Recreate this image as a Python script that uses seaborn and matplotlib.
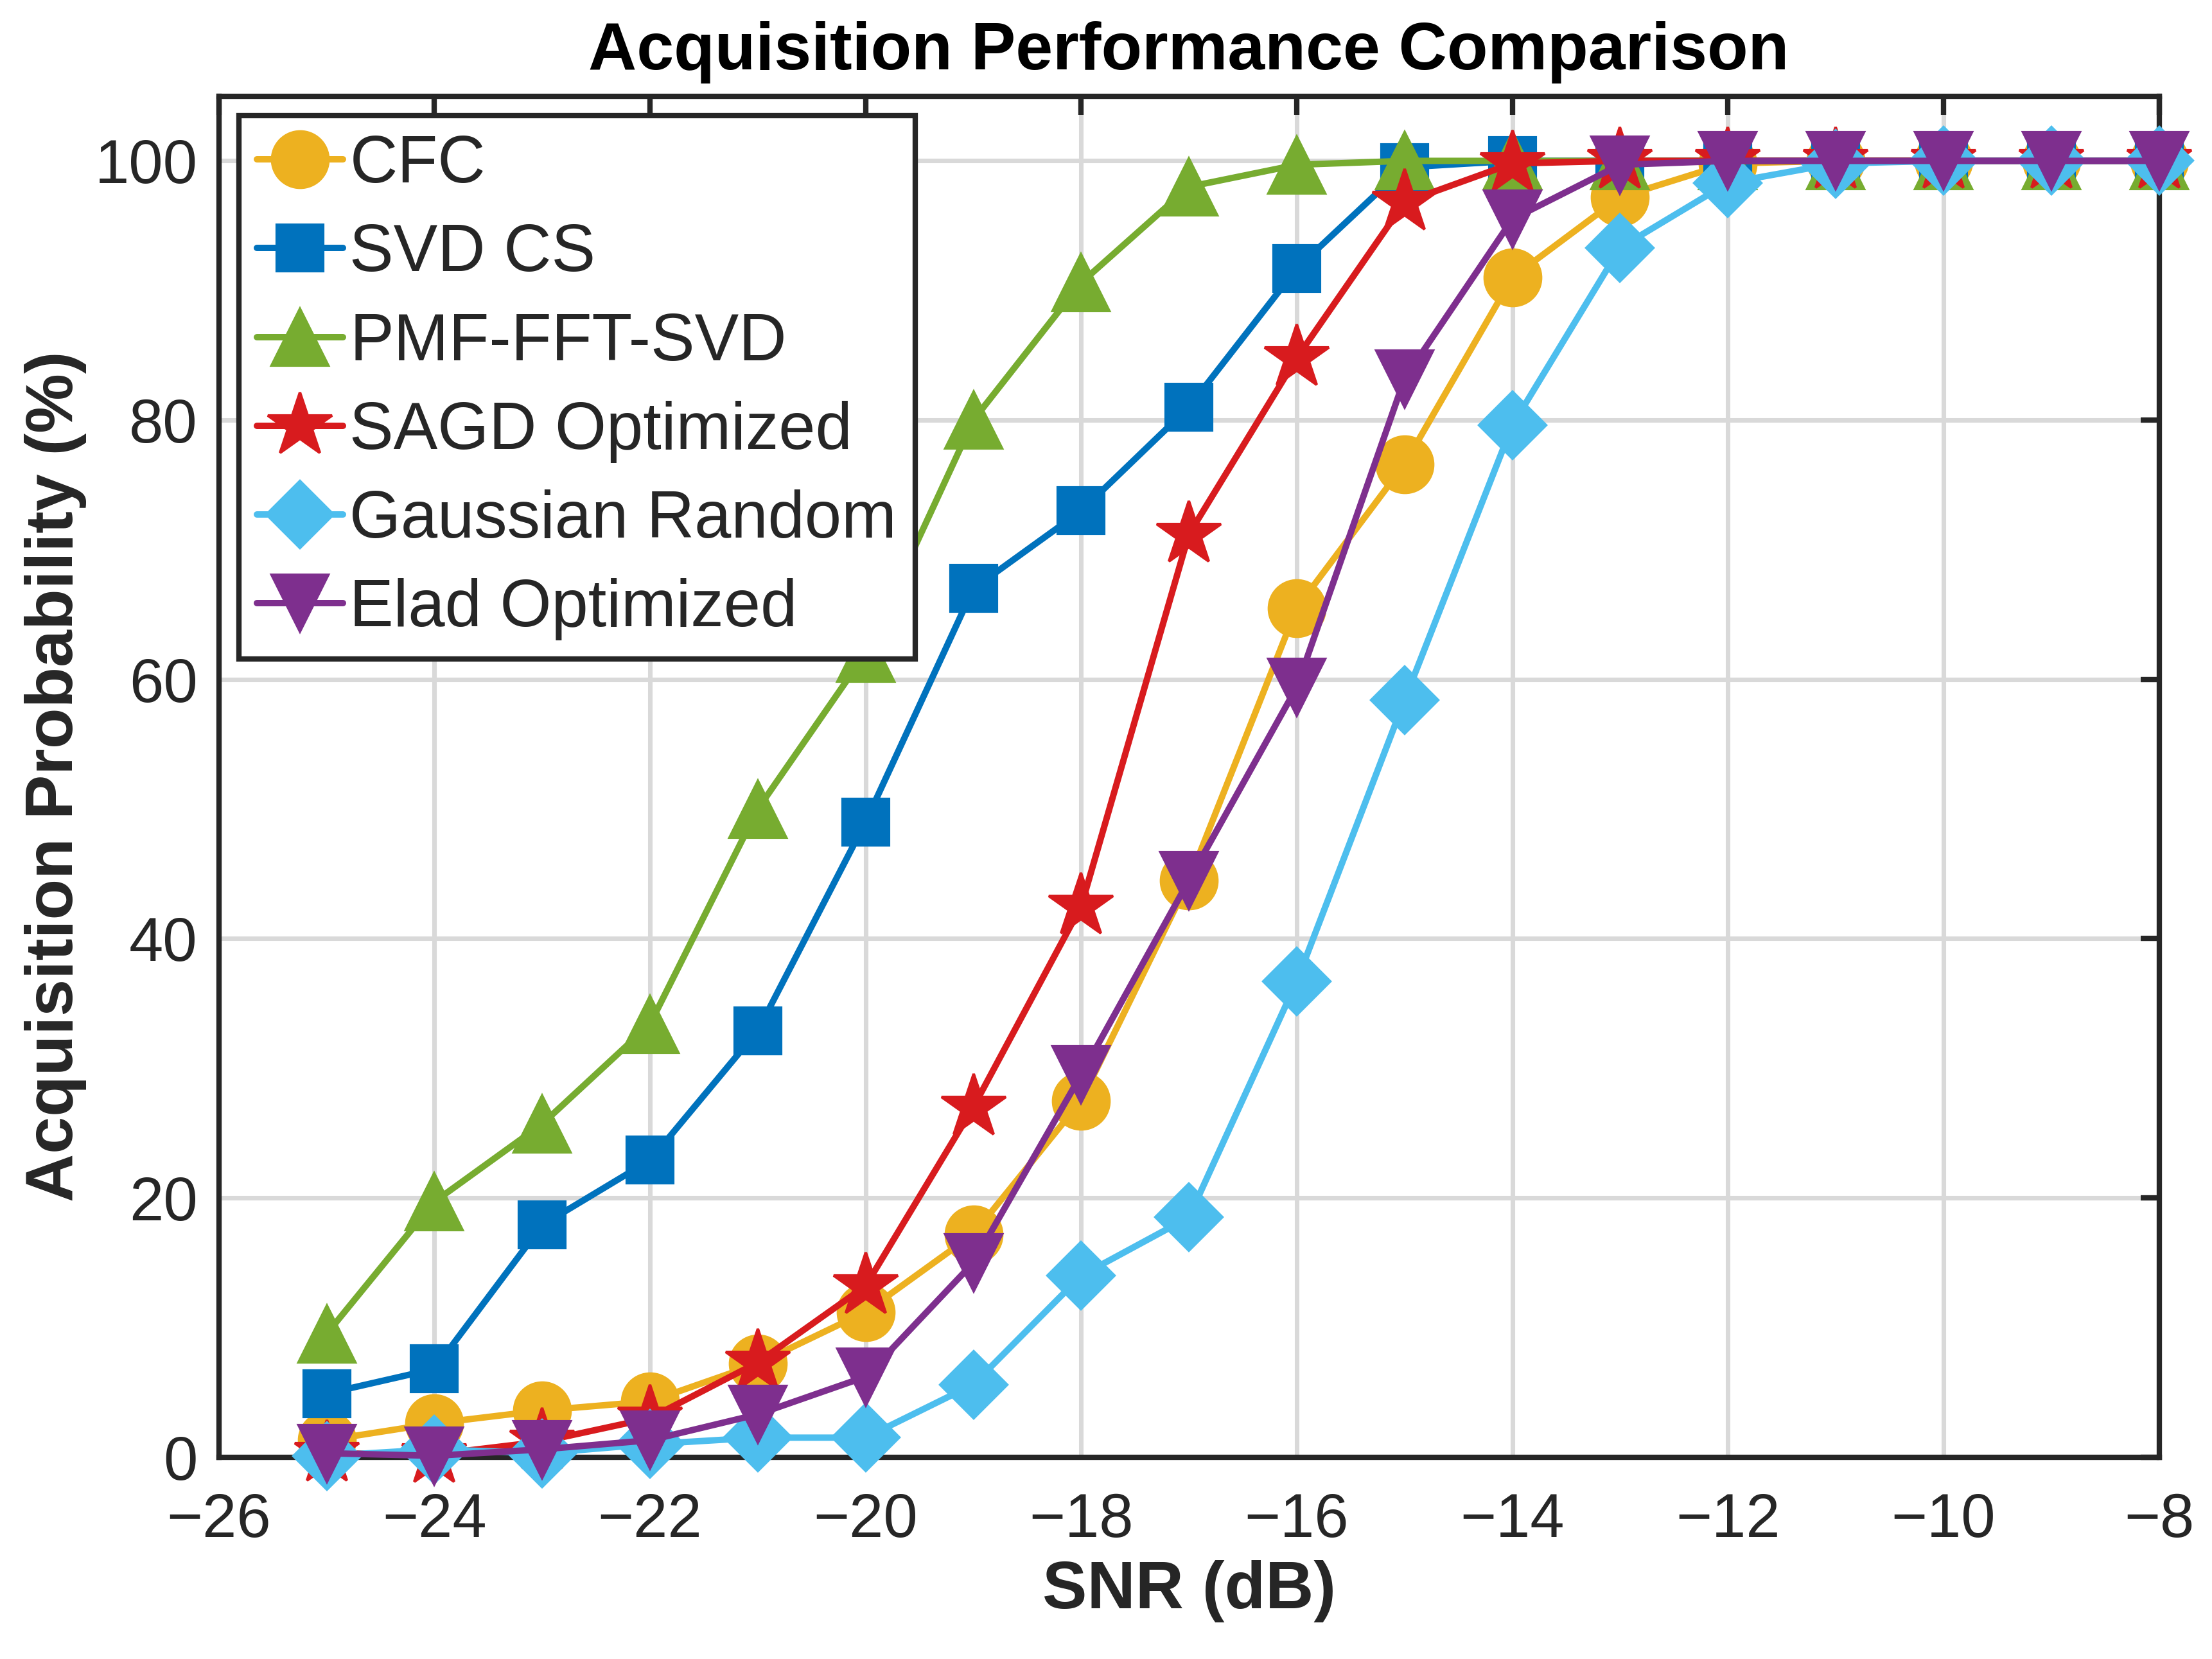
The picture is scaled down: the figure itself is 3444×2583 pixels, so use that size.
import matplotlib
matplotlib.use("Agg")
import matplotlib.pyplot as plt
import seaborn as sns
import pandas as pd

snr = [-25, -24, -23, -22, -21, -20, -19, -18, -17, -16, -15, -14, -13, -12, -11, -10, -9, -8]

cfc = [1.3, 2.6, 3.6, 4.3, 7.2, 11.2, 17.2, 27.5, 44.5, 65.5, 76.6, 91.0, 97.2, 99.8, 100, 100, 100, 100]
svd_cs = [4.9, 6.8, 17.9, 22.9, 32.9, 49.0, 67.0, 73.0, 81.0, 91.7, 99.5, 100, 100, 100, 100, 100, 100, 100]
pmf_fft_svd = [9.5, 19.7, 25.7, 33.4, 50.0, 62.0, 80.0, 90.6, 98.0, 99.7, 100, 100, 100, 100, 100, 100, 100, 100]
sagd = [0.3, 0.2, 1.2, 3.0, 7.3, 13.2, 27.0, 42.5, 71.2, 84.8, 96.8, 99.8, 100, 100, 100, 100, 100, 100]
gaussian = [0.1, 0.6, 0.3, 1.0, 1.5, 1.5, 5.6, 14.0, 18.5, 36.7, 58.4, 79.6, 93.3, 98.3, 99.8, 100, 100, 100]
elad = [0.3, 0.1, 0.6, 1.3, 3.3, 6.2, 15.0, 29.5, 44.5, 59.4, 83.2, 95.5, 99.7, 100, 100, 100, 100, 100]

labels = ["CFC", "SVD CS", "PMF-FFT-SVD", "SAGD Optimized", "Gaussian Random", "Elad Optimized"]
series = [cfc, svd_cs, pmf_fft_svd, sagd, gaussian, elad]
colors = ["#EDB120", "#0072BD", "#77AC30", "#D81B1E", "#4DBEEE", "#7E2F8E"]
markers = ["o", "s", "^", "*", "D", "v"]
msizes = [21, 17.5, 21, 25, 17.5, 21]

x_ticks = [-26, -24, -22, -20, -18, -16, -14, -12, -10, -8]
y_ticks = [0, 20, 40, 60, 80, 100]

sns.set_style("white")
plt.rcParams["font.family"] = ["Liberation Sans", "DejaVu Sans"]
plt.rcParams["axes.unicode_minus"] = True

fig = plt.figure(figsize=(3445 / 300, 2583 / 300), dpi=300)
ax = fig.add_axes([0.0989, 0.1217, 0.8769, 0.8204])

for lab, vals, col, mk, ms in zip(labels, series, colors, markers, msizes):
    df = pd.DataFrame({"snr": snr, "p": vals})
    sns.lineplot(data=df, x="snr", y="p", ax=ax, color=col, marker=mk,
                 markersize=ms, markeredgecolor=col, markeredgewidth=1.0,
                 linewidth=2.4, label=lab, clip_on=False, zorder=3)

ax.set_xlim(-26, -8)
ax.set_ylim(0, 105)
ax.set_xticks(x_ticks)
ax.set_yticks(y_ticks)
ax.grid(True, color="#d9d9d9", linewidth=1.7)
ax.set_axisbelow(True)
for sp in ax.spines.values():
    sp.set_visible(True)
    sp.set_color("#262626")
    sp.set_linewidth(2.0)
ax.tick_params(direction="in", length=7, width=2.0, colors="#262626",
               labelsize=23, top=True, right=True)
ax.tick_params(axis="x", pad=13)
ax.tick_params(axis="y", pad=8)
for t in ax.get_xticklabels() + ax.get_yticklabels():
    t.set_color("#262626")

ax.set_xlabel("SNR (dB)", fontsize=25, fontweight="bold", color="#262626", labelpad=4)
ax.set_ylabel("Acquisition Probability (%)", fontsize=25, fontweight="bold", color="#262626", labelpad=3)
ax.set_title("Acquisition Performance Comparison", fontsize=25, fontweight="bold", color="black", pad=10)

leg = ax.legend(loc="upper left", fontsize=24.7, frameon=True, fancybox=False,
                framealpha=1, edgecolor="#262626", handlelength=1.3,
                handletextpad=0.1, labelspacing=0.4, borderpad=0.28,
                borderaxespad=0.3)
leg.get_frame().set_linewidth(2.0)
leg.set_zorder(10)

fig.savefig("out.png", dpi=300)
